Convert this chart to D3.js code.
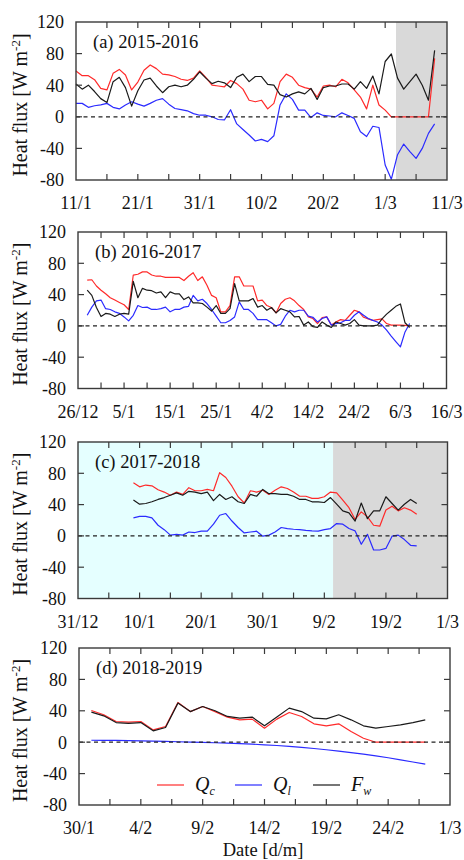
<!DOCTYPE html>
<html><head><meta charset="utf-8">
<script src="https://cdn.jsdelivr.net/npm/d3@7/dist/d3.min.js"></script>
<style>
body{margin:0;background:#fff;}
svg{display:block;font-family:"Liberation Serif","Times New Roman",serif;}
</style></head><body>
<svg id="chart" width="464" height="860"></svg>
<script>
// ---------- DATA ----------
const yTickValues = [-80, -40, 0, 40, 80, 120];
const seriesNames = ["Q", "Q", "F"];
const seriesSubs = ["c", "l", "w"];

// (a) 2015-2016, daily from 11/1/2016
const aTitle = "(a) 2015-2016";
const aDomain = ["2016-01-11", "2016-03-11"];
const aTicks = ["2016-01-11", "2016-01-21", "2016-01-31", "2016-02-10", "2016-02-20", "2016-03-01", "2016-03-11"];
const aStart = "2016-01-11";
const aQc = [58, 52, 52, 47, 36, 34, 55, 60, 53, 34,
  44, 59, 65.6, 61, 54, 53, 51, 47.5, 46, 49,
  58, 50, 40, 39, 38, 46, 42, 35, 21, 19,
  21, 10, 17, 44.5, 54, 50, 40, 37, 35, 25,
  39, 40, 38, 47.5, 43, 34, 25, 10, 40, 15,
  8.4, 0, 0, 0, 0, 0, 0, 0, 74];
const aQl = [17, 17, 12, 14, 15, 17, 12, 10, 15, 19,
  16, 13.5, 17, 21, 23, 16, 10.5, 9, 7.6, 4,
  2, 2, 0, -3.4, -4, 9, -9, -16, -23, -30.6,
  -28.5, -31.5, -24, 15, 29, 22, 8.4, 8.4, -1, 5,
  1.7, 1, 0, 5, 1.7, -2, -19, -25, -12, -13.5,
  -61, -79, -48, -34.5, -44, -52.6, -40, -21, -9];
const aFw = [41.5, 35, 40, 32, 23, 18, 44.5, 50, 37, 13.5,
  33, 46.6, 49, 39, 30.5, 38, 40, 38, 40, 47.5,
  57, 49, 42, 45, 43, 37, 50, 54, 44.5, 51,
  51, 41, 40, 28, 25, 29, 31.6, 29, 36, 22,
  37, 39, 39, 41.5, 41.5, 35, 44.5, 36, 51.6, 29,
  70, 79.5, 49, 35, 44.5, 54, 40, 21, 84];
const aShades = [["2016-03-02T18:00Z", "2016-03-11T00:00Z", "#d9d9d9"]];

// (b) 2016-2017, daily from 28/12/2016
const bTitle = "(b) 2016-2017";
const bDomain = ["2016-12-26", "2017-03-16"];
const bTicks = ["2016-12-26", "2017-01-05", "2017-01-15", "2017-01-25", "2017-02-04", "2017-02-14", "2017-02-24", "2017-03-06", "2017-03-16"];
const bStart = "2016-12-28";
const bQc = [58.4, 59, 51, 45.6, 41, 36, 33, 30, 27, 21,
  65, 66, 69, 69, 65, 63.5, 63.5, 62, 62, 62,
  62, 58, 63.5, 68, 58, 62.7, 52, 39, 36, 18,
  18, 26, 62.7, 62.7, 51, 51, 51, 32, 33, 26,
  23.5, 16.6, 28.6, 34, 36, 32, 26, 21, 11.5, 9.4,
  3, 10.7, 11.5, 1, 5, 8, 7, 13.6, 20, 18,
  11, 9, 7, 8, 9, 3, 1, 1, 1, 0.7, 0];
const bQl = [13.6, 24, 32, 33, 22, 21, 18, 16, 11.5, 6.4,
  13.6, 26, 23.5, 24, 21, 21, 22, 24, 18, 21,
  21, 24, 25, 39, 32, 34, 28.6, 21, 12.4, 4,
  4, 7, 11.5, 30.7, 21, 21, 16, 8, 8, 8,
  4, 0, 2, 12.4, 20, 18, 20, 20, 12.4, 11,
  5, 9.4, 11.5, 1, 3, 4, 7, 7, 13.6, 18,
  13.6, 9.4, 7, 5, 1, -5.5, -13, -20, -26.7, -7.7, 3];
const bFw = [45.6, 39, 23.5, 12, 16, 15, 12, 15, 16, 15,
  57, 36, 48, 45.6, 45, 42, 43.5, 36, 43.5, 41,
  41, 33.7, 37, 29.4, 29.4, 28.6, 24, 19, 26, 16,
  16, 22, 54, 32, 32, 32, 35, 24, 26, 20,
  23.5, 16.6, 22, 20, 18, 11.5, 12, 1, 5, -1,
  -2, 5, 1, -2, 5, 3, 1, 3, 8, 1,
  0, 0, 0, 1, 9, 15, 20, 25, 28, 4, -2];
const bShades = [];

// (c) 2017-2018, daily from 9/1/2018
const cTitle = "(c) 2017-2018";
const cDomain = ["2017-12-31", "2018-03-01"];
const cTicks = ["2017-12-31", "2018-01-10", "2018-01-20", "2018-01-30", "2018-02-09", "2018-02-19", "2018-03-01"];
const cStart = "2018-01-09";
const cQc = [67.8, 62.7, 65, 64, 59, 56, 52, 56, 53, 61.6,
  57.7, 57.7, 59.4, 57.7, 80.8, 74.6, 63.5, 50, 42, 57.7,
  56, 58.4, 53, 58.4, 62.7, 60.6, 56, 50.7, 50.7, 48,
  48, 50, 56, 55, 45.6, 36, 21, 30.7, 24.3, 13.6,
  12.4, 33, 38, 32, 36, 33, 27.7];
const cQl = [23, 25, 25, 23, 13.6, 8, 1, 2, 1, 5,
  4.3, 6, 6, 15, 26.4, 28.6, 19, 10.7, 3.8, 5,
  6, -0.4, 1, 5, 10.7, 9.4, 8.5, 8, 7, 6.4,
  6, 8, 9.4, 15.8, 15, 9.4, 6.4, -10.7, 2, -18,
  -18, -16, -0.4, 1, -4.7, -12, -12.8];
const cFw = [45.8, 40.5, 41.4, 43.6, 46.6, 49, 52, 55, 52, 57,
  56, 54, 56, 45, 53, 46.6, 50, 43.6, 41.4, 53,
  50.7, 59.4, 54, 54, 53, 53, 50.7, 46.6, 46.6, 43.6,
  43.6, 42.7, 49, 40.5, 32, 29.4, 19, 42, 22, 32,
  32, 50, 41.4, 33, 40.5, 46.6, 41.4];
const cShades = [["2017-12-31T00:00Z", "2018-02-10T10:00Z", "#e5ffff"], ["2018-02-10T10:00Z", "2018-03-01T00:00Z", "#d9d9d9"]];

// (d) 2018-2019, daily from 31/1/2019
const dTitle = "(d) 2018-2019";
const dDomain = ["2019-01-30", "2019-03-01"];
const dTicks = ["2019-01-30", "2019-02-04", "2019-02-09", "2019-02-14", "2019-02-19", "2019-02-24", "2019-03-01"];
const dStart = "2019-01-31";
const dQc = [40.4, 35, 26.4, 25.5, 26.4, 15.7, 20, 50.6, 39, 45.5,
  39, 32, 28.5, 29.4, 17.9, 29.4, 37.9, 32.8, 23.4, 20.9,
  23.4, 13.6, 5, 0, 0, 0, 0, 0];
const dQl = [2.5, 2.4, 2.2, 2, 1.7, 1.4, 1, 0.6, 0.2, -0.2,
  -0.7, -1.2, -1.8, -2.5, -3.3, -4.2, -5.3, -6.6, -8, -9.6,
  -11.3, -13.2, -15.2, -17.4, -19.8, -22.4, -25.2, -28];
const dFw = [38.3, 33.6, 25, 24, 25, 14.5, 18.7, 49.8, 39, 45.5,
  40, 32.8, 30.6, 32, 20.9, 32, 43.4, 39, 30.6, 29.8,
  34.9, 28.5, 20.9, 17.9, 20, 22, 25, 28.5];
const dShades = [];

// ---------- DRAWING ----------
const parse = d3.utcParse("%Y-%m-%d");
const fmt = d3.utcFormat("%-d/%-m");
const DAY = 864e5;
const colors = ["#ff2a2a", "#2b2bff", "#1a1a1a"];

const panels = [
  {title: aTitle, domain: aDomain, ticks: aTicks, start: aStart, s: [aQc, aQl, aFw], shades: aShades, box: [76, 447, 22, 180]},
  {title: bTitle, domain: bDomain, ticks: bTicks, start: bStart, s: [bQc, bQl, bFw], shades: bShades, box: [78, 446.5, 232, 388.5]},
  {title: cTitle, domain: cDomain, ticks: cTicks, start: cStart, s: [cQc, cQl, cFw], shades: cShades, box: [78, 447.5, 442, 598.5]},
  {title: dTitle, domain: dDomain, ticks: dTicks, start: dStart, s: [dQc, dQl, dFw], shades: dShades, box: [79, 450, 648, 805]}
];

const svg = d3.select("#chart");
const frameColor = "#3a3a3a";

panels.forEach((p, pi) => {
  const [x0, x1, y0, y1] = p.box;
  const x = d3.scaleUtc().domain(p.domain.map(parse)).range([x0, x1]);
  const y = d3.scaleLinear().domain([-80, 120]).range([y1, y0]);
  const g = svg.append("g");

  // shaded periods
  p.shades.forEach(([a, b, c]) => {
    const xa = x(d3.isoParse(a)), xb = x(d3.isoParse(b));
    g.append("rect").attr("x", xa).attr("y", y0).attr("width", xb - xa).attr("height", y1 - y0).attr("fill", c);
  });

  // series lines
  const st = parse(p.start);
  const line = d3.line().x(d => x(d.date)).y(d => y(d.v));
  p.s.forEach((vals, k) => {
    const pts = vals.map((v, i) => ({date: new Date(+st + i * DAY), v}));
    g.append("path").datum(pts).attr("d", line).attr("fill", "none")
      .attr("stroke", colors[k]).attr("stroke-width", 1.2).attr("stroke-linejoin", "round");
  });

  // zero line
  g.append("line").attr("x1", x0).attr("x2", x1).attr("y1", y(0)).attr("y2", y(0))
    .attr("stroke", "#222").attr("stroke-width", 1.2).attr("stroke-dasharray", "4,3.5");

  // frame
  g.append("rect").attr("x", x0).attr("y", y0).attr("width", x1 - x0).attr("height", y1 - y0)
    .attr("fill", "none").attr("stroke", frameColor).attr("stroke-width", 1.4);

  // x ticks (major + minor midpoints), inward top & bottom
  const major = p.ticks.map(parse);
  const minor = d3.pairs(major).map(([a, b]) => new Date((+a + +b) / 2));
  const tl = 6;
  major.concat(minor).forEach(t => {
    const xx = x(t);
    if (xx <= x0 + 0.5 || xx >= x1 - 0.5) return;
    g.append("line").attr("x1", xx).attr("x2", xx).attr("y1", y1).attr("y2", y1 - tl).attr("stroke", frameColor).attr("stroke-width", 1.2);
    g.append("line").attr("x1", xx).attr("x2", xx).attr("y1", y0).attr("y2", y0 + tl).attr("stroke", frameColor).attr("stroke-width", 1.2);
  });
  g.selectAll("text.xt").data(major).enter().append("text")
    .attr("x", d => x(d)).attr("y", y1 + 29).attr("text-anchor", "middle")
    .attr("font-size", 18).attr("fill", "#111").text(d => fmt(d));

  // y ticks left & right inward
  yTickValues.forEach(v => {
    const yy = y(v);
    if (v !== -80 && v !== 120) {
      g.append("line").attr("x1", x0).attr("x2", x0 + tl).attr("y1", yy).attr("y2", yy).attr("stroke", frameColor).attr("stroke-width", 1.2);
      g.append("line").attr("x1", x1).attr("x2", x1 - tl).attr("y1", yy).attr("y2", yy).attr("stroke", frameColor).attr("stroke-width", 1.2);
    }
    g.append("text").attr("x", x0 - 12).attr("y", yy).attr("dy", "0.35em").attr("text-anchor", "end")
      .attr("font-size", 18).attr("fill", "#111").text(v);
  });

  // y label
  const cy = (y0 + y1) / 2 + 4;
  const yl = g.append("text").attr("transform", `translate(${27},${cy}) rotate(-90)`)
    .attr("text-anchor", "middle").attr("font-size", 20).attr("fill", "#111");
  yl.append("tspan").text("Heat flux [W m");
  yl.append("tspan").attr("font-size", 13).attr("dy", -7).text("-2");
  yl.append("tspan").attr("dy", 7).text("]");

  // title
  g.append("text").attr("x", x0 + 17).attr("y", y0 + 26).attr("font-size", 18.5).attr("fill", "#111").text(p.title);

  // legend in last panel
  if (pi === 3) {
    const ly = 785;
    const lx = [157, 235, 313];
    lx.forEach((lxx, k) => {
      g.append("line").attr("x1", lxx).attr("x2", lxx + 27).attr("y1", ly).attr("y2", ly).attr("stroke", colors[k]).attr("stroke-width", 1.2);
      const t = g.append("text").attr("x", lxx + 38).attr("y", ly + 6).attr("font-size", 20).attr("font-style", "italic").attr("fill", "#111");
      t.append("tspan").text(seriesNames[k]);
      t.append("tspan").attr("font-size", 12).attr("dy", 4).text(seriesSubs[k]);
    });
  }
});

// x axis label
svg.append("text").attr("x", 263).attr("y", 856).attr("text-anchor", "middle")
  .attr("font-size", 18.5).attr("fill", "#111").text("Date [d/m]");
</script></body></html>
